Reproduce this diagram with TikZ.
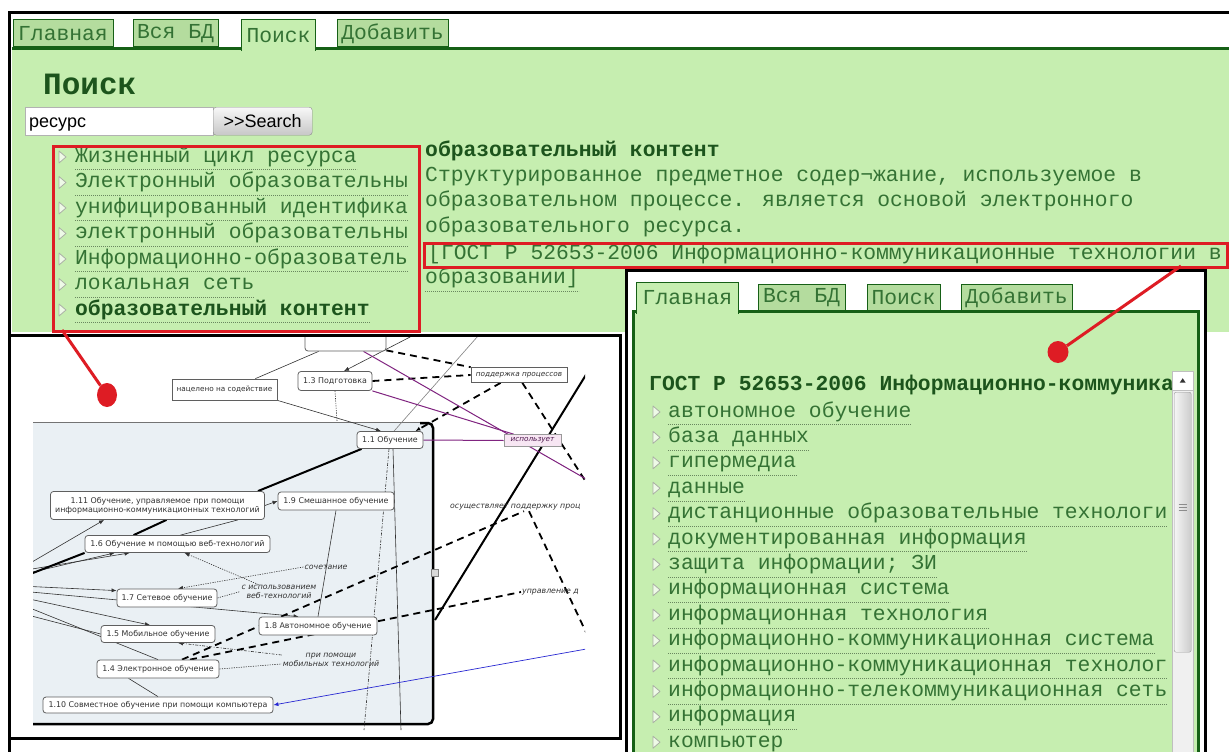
\documentclass[tikz,border=0pt]{standalone}
\usepackage{fontspec}
\setmainfont{Liberation Serif}
\newfontfamily\monof{Liberation Mono}
\newfontfamily\arialf{Liberation Sans}
\newfontfamily\dvf{DejaVu Sans}
\usetikzlibrary{calc,arrows.meta,shapes.geometric}
\pgfdeclarelayer{lzero}
\pgfdeclarelayer{lone}
\pgfsetlayers{lzero,lone,main}
\definecolor{webgreen}{RGB}{198,238,176}
\definecolor{tabgreen}{RGB}{180,220,158}
\definecolor{darkgr}{RGB}{22,96,22}
\definecolor{txtgr}{RGB}{52,114,52}
\definecolor{boldgr}{RGB}{28,84,28}
\definecolor{redm}{RGB}{222,28,36}
\definecolor{diagbg}{RGB}{234,240,244}
\definecolor{purp}{RGB}{128,36,128}
\definecolor{bluel}{RGB}{40,40,210}
\definecolor{nodeln}{RGB}{95,95,95}
\definecolor{nodetx}{RGB}{50,50,50}
\definecolor{ulgr}{RGB}{105,135,95}
\definecolor{trigr}{RGB}{170,175,165}
\definecolor{pinkbg}{RGB}{247,230,243}
\tikzset{
  monotxt/.style={font=\monof\fontsize{21.33}{25.4}\selectfont, text=txtgr, inner sep=0pt, anchor=base west},
  monobold/.style={font=\monof\bfseries\fontsize{21.33}{25.4}\selectfont, text=boldgr, inner sep=0pt, anchor=base west},
  ul/.style={draw=ulgr, line width=0.8pt, dash pattern=on 1pt off 1pt},
  tabbox/.style={draw=darkgr, line width=1pt, fill=tabgreen, inner sep=0pt, minimum height=27pt, font=\monof\fontsize{21.33}{25.4}\selectfont, text=txtgr},
  acttab/.style={fill=webgreen, inner sep=0pt, minimum height=31pt, font=\monof\fontsize{21.33}{25.4}\selectfont, text=txtgr},
  tabedge/.style={draw=darkgr, line width=1.2pt},
  tri/.style={draw=trigr, fill=white!70!webgreen, line width=0.8pt, line join=round},
  redbox/.style={draw=redm, line width=3pt, inner sep=0pt},
  redln/.style={draw=redm, line width=3pt},
  reddot/.style={ellipse, fill=redm, inner sep=0pt},
  dnode/.style={draw=nodeln, fill=white, rounded corners=3pt, line width=0.8pt, inner sep=1pt, font=\dvf\fontsize{7.9}{9.4}\selectfont, text=nodetx, align=center},
  dbox/.style={draw=nodeln, fill=white, line width=0.7pt, inner sep=1pt, font=\dvf\fontsize{7.3}{9}\selectfont, text=nodetx},
  dlab/.style={inner sep=1pt, font=\dvf\itshape\fontsize{7.8}{9}\selectfont, text=nodetx, align=center},
  dthin/.style={draw=nodetx, line width=0.6pt},
  dthick/.style={draw=black, line width=2pt},
  ddash/.style={draw=black, line width=1.8pt, dash pattern=on 7pt off 5pt},
  ddot/.style={draw=nodetx, line width=0.6pt, dash pattern=on 1.2pt off 1.2pt},
  ddashdot/.style={draw=nodetx, line width=0.6pt, dash pattern=on 3pt off 1.5pt on 1pt off 1.5pt},
  darr/.style={-{Latex[length=5pt,width=4pt]}},
  dpurp/.style={draw=purp, line width=1pt},
}
\begin{document}
\begin{tikzpicture}[x=1pt,y=-1pt]
\useasboundingbox (0,0) rectangle (1229,752);
\begin{pgfonlayer}{lzero}
\fill[white] (0,0) rectangle (1229,752);
\end{pgfonlayer}

% ---------------- top screenshot ----------------
\fill[webgreen] (11.5,50) rectangle (1229,332);
\node[tabbox, minimum width=100pt] (tg1) at (63,33.5) {Главная};
\node[tabbox, minimum width=85pt] (tv1) at (175.5,33.5) {Вся БД};
\node[tabbox, minimum width=111pt] (td1) at (392.5,33.5) {Добавить};
\draw[darkgr, line width=3pt] (11.5,48.5) -- (1229,48.5);
\node[acttab, minimum width=73pt] (tp1) at (278.5,35.5) {Поиск};
\draw[tabedge] (tp1.south west) -- (tp1.north west) -- (tp1.north east) -- (tp1.south east);
\draw[line width=2.5pt] (9.5,337) -- (9.5,12.5) -- (1229,12.5);

\node[font=\monof\bfseries\fontsize{31}{36}\selectfont, text=boldgr, inner sep=0pt, anchor=base west] (hd) at (43,95) {Поиск};
\node[draw=black!30, fill=white, minimum width=188pt, minimum height=28pt, inner sep=0pt, anchor=north west] (inp) at (25,107) {};
\node[font=\arialf\fontsize{18}{20}\selectfont, anchor=base west, inner sep=0pt] (inpt) at (29,127) {ресурс};
\node[draw=black!45, rounded corners=3pt, top color=black!3, bottom color=black!22, minimum width=99pt, minimum height=28pt, inner sep=0pt, anchor=north west, font=\arialf\fontsize{18}{20}\selectfont] (btn) at (213,107) {>>Search};

% left list
\begin{scope}
\clip (52,145) rectangle (416.5,330);
\foreach \t [count=\i from 0] in {Жизненный цикл ресурса, Электронный образовательны, унифицированный идентифика, электронный образовательны, Информационно-образователь, локальная сеть}{
  \node[monotxt] (l\i) at (75,{162+25.5*\i}) {\strut\t};
  \draw[ul] (l\i.south west) -- (l\i.south east);
  \draw[tri] (59,{151+25.5*\i}) -- (66,{157+25.5*\i}) -- (59,{163+25.5*\i}) -- cycle;
}
\node[monobold] (l6) at (75,315) {\strut образовательный контент};
\draw[ul] (l6.south west) -- (l6.south east);
\draw[tri] (59,304) -- (66,310) -- (59,316) -- cycle;
\end{scope}
\node[redbox, minimum width=366pt, minimum height=185pt, anchor=north west] (rbox1) at (52,145) {};

% definition text
\node[monobold] (m1) at (425,156) {образовательный контент};
\node[monotxt] (m2) at (425,181) {Структурированное предметное содер¬жание, используемое в};
\node[monotxt] (m3) at (425,206.5) {образовательном процессе. является основой электронного};
\node[monotxt] (m4) at (425,232) {образовательного ресурса.};
\node[monotxt] (m5) at (428,259) {[ГОСТ Р 52653-2006 Информационно-коммуникационные технологии в};
\node[monotxt] (m6) at (425,283.5) {\strut образовании]};
\draw[ul] (m6.south west) -- (m6.south east);
\node[redbox, minimum width=803pt, minimum height=24pt, anchor=north west] (rbox2) at (423,242) {};

% ---------------- right screenshot ----------------
\fill[white] (626,270) rectangle (1205,752);
\node[tabbox, minimum width=87pt] (tv2) at (801.5,297.5) {Вся БД};
\node[tabbox, minimum width=73pt] (tp2) at (903.5,297.5) {Поиск};
\node[tabbox, minimum width=111pt] (td2) at (1016.5,297.5) {Добавить};
\fill[webgreen] (633,312) rectangle (1199,752);
\draw[darkgr, line width=3pt] (633.5,752) -- (633.5,311.5) -- (1198.5,311.5) -- (1198.5,752);
\node[acttab, minimum width=101pt] (tg2) at (687.5,298) {Главная};
\draw[tabedge] (tg2.south west) -- (tg2.north west) -- (tg2.north east) -- (tg2.south east);
\draw[line width=3pt] (626,752) -- (626,270) -- (1205,270) -- (1205,752);

\begin{scope}
\clip (636,320) rectangle (1171,752);
\node[monobold] (gh) at (649,390) {ГОСТ Р 52653-2006 Информационно-коммуника};
\foreach \t [count=\i from 0] in {автономное обучение, база данных, гипермедиа, данные, дистанционные образовательные технологи, документированная информация, защита информации; ЗИ, информационная система, информационная технология, информационно-коммуникационная система, информационно-коммуникационная технолог, информационно-телекоммуникационная сеть, информация, компьютер}{
  \node[monotxt] (r\i) at (668,{417+25.4*\i}) {\strut\t};
  \draw[ul] (r\i.south west) -- (r\i.south east);
  \draw[tri] (653,{406+25.4*\i}) -- (660,{412+25.4*\i}) -- (653,{418+25.4*\i}) -- cycle;
}
\end{scope}
% scrollbar
\node[draw=black!25, fill=black!6, minimum width=21pt, minimum height=382pt, inner sep=0pt, anchor=north west] (sbar) at (1172,371) {};
\node[draw=black!25, fill=white, minimum width=21pt, minimum height=19pt, inner sep=0pt, anchor=north west] (sup) at (1172,371) {};
\fill[black!80] ($(sup.center)+(-3,2)$) -- ($(sup.center)+(3,2)$) -- ($(sup.center)+(0,-2.5)$) -- cycle;
\node[draw=black!40, rounded corners=2pt, left color=black!4, right color=black!20, minimum width=17pt, minimum height=260pt, inner sep=0pt, anchor=north west] (sth) at (1174,392) {};
\foreach \d in {-3,0,3} \draw[black!45, line width=0.8pt] ($(sth.center)+(-4,\d-15)$) -- ($(sth.center)+(4,\d-15)$);

% ---------------- bottom-left screenshot ----------------
\begin{pgfonlayer}{lzero}
\fill[white] (9,335) rectangle (620,739);
\begin{scope}
\clip (33,337) rectangle (585,737);
\fill[diagbg] (33,422) rectangle (433,723);
\end{scope}
\end{pgfonlayer}

\begin{scope}
\clip (33,337) rectangle (585,737);
\node[dnode, minimum width=81pt, minimum height=40pt] (tn) at (345.5,331) {};
\node[dbox, minimum width=105pt, minimum height=21pt] (nac) at (224.5,389.5) {нацелено на содействие};
\node[dnode, minimum width=74pt, minimum height=19pt] (n13) at (335,381) {1.3 Подготовка};
\node[dbox, minimum width=96pt, minimum height=15pt, font=\dvf\itshape\fontsize{7.3}{9}\selectfont] (podd) at (519,375) {поддержка процессов};
\node[dnode, minimum width=66pt, minimum height=17pt] (n11) at (390,440) {1.1 Обучение};
\node[dbox, fill=pinkbg, draw=black!40, minimum width=57pt, minimum height=12pt, font=\dvf\itshape\fontsize{7.3}{9}\selectfont, text=purp!60!black] (isp) at (532.5,440.5) {использует};
\node[dnode, minimum width=214pt, minimum height=28pt] (n111) at (157.5,505.5) {1.11 Обучение, управляемое при помощи\\информационно-коммуникационных технологий};
\node[dnode, minimum width=116pt, minimum height=18pt] (n19) at (336,501) {1.9 Смешанное обучение};
\node[dnode, minimum width=185pt, minimum height=17pt] (n16) at (177.5,544) {1.6 Обучение м помощью веб-технологий};
\node[dnode, minimum width=100pt, minimum height=18pt] (n17) at (167,598) {1.7 Сетевое обучение};
\node[dnode, minimum width=118pt, minimum height=18pt] (n18) at (318,626) {1.8 Автономное обучение};
\node[dnode, minimum width=114pt, minimum height=17pt] (n15) at (158,634) {1.5 Мобильное обучение};
\node[dnode, minimum width=122pt, minimum height=18pt] (n14) at (158,669) {1.4 Электронное обучение};
\node[dnode, minimum width=230pt, minimum height=16pt] (n110) at (158,705) {1.10 Совместное обучение при помощи компьютера};
\node[dlab, anchor=west] (osu) at (449,507) {осуществляет поддержку проц};
\node[dlab] (soch) at (326,567) {сочетание};
\node[dlab] (sisp) at (279,591.5) {с использованием\\веб-технологий};
\node[dlab] (pri) at (331,660) {при помощи\\мобильных технологий};
\node[dlab, anchor=west] (upr) at (521,592) {управление д};
\node[draw=black!50, fill=black!15, minimum size=7pt, inner sep=0pt] (ico) at (435,573) {};
\end{scope}

\coordinate (cTR) at (412,336);
\coordinate (cTR2) at (478,336);
\coordinate (c13e) at (337,421);
\coordinate (cB1) at (364,730);
\coordinate (cB2) at (401,730);
\coordinate (cBl) at (592,648);
\coordinate (cR1) at (597,499);
\coordinate (cR2) at (600,662);
\coordinate (cP) at (600,487);
\coordinate (cS1) at (435,620);
\coordinate (cS2) at (600,352);
\coordinate (cL0) at (20,569);
\coordinate (cL1) at (20,571);
\coordinate (cL2) at (20,575);
\coordinate (cL3) at (20,578);
\coordinate (cL4) at (20,586);
\coordinate (cL5) at (20,591);
\coordinate (cL6) at (20,597);
\coordinate (cL7) at (20,604);
\coordinate (cL8) at (20,613);

\begin{pgfonlayer}{lone}
\begin{scope}
\clip (33,337) rectangle (585,737);
\draw[line width=0.8pt, draw=black!55] (33,422) -- (425,422);
\draw[line width=2.5pt, rounded corners=5pt] (33,724) -- (433,724) -- (433,423) -- (420,423);
% thin lines
\draw[dthin] ($(nac.north east)+(-22,0)$) -- ($(tn.south west)+(14,0)$);
\draw[dthin, darr] (nac.south east) -- ($(n11.north)+(-9,0)$);
\draw[dthin, darr] (cTR) -- ($(n13.north)+(9,0)$);
\draw[dthin, draw=black!50] (cTR2) -- ($(n11.north)+(4,0)$);
\draw[ddot] (n13.south) -- (c13e);
\draw[dthin] (n19.south) -- (n18.north);
\draw[ddashdot] ($(n11.south)+(-1,0)$) -- (cB1);
\draw[dthin] ($(n11.south)+(3,0)$) -- (cB2);
\draw[dthin] ($(n16.north)+(3,0)$) -- ($(n111.south east)+(-27,0)$);
\draw[dthin, darr] (cL0) -- ($(n111.south west)+(54,0)$);
\draw[dthin, darr] (cL1) -- ($(n16.south west)+(45,0)$);
\draw[dthin, darr] (cL2) -- ($(n16.south west)+(30,0)$);
\draw[dthick] (cL3) -- (n16.south west);
\draw[dthick] ($(n16.north west)+(49,0)$) -- ($(n111.south)+(9,0)$);
\draw[dthick] ($(n111.north east)+(-7,0)$) -- ($(n11.south west)+(5,0)$);
\draw[dthin, darr] (n111.east) -- (n19.west);
\draw[dthin, darr] (cL4) -- ($(n17.north west)+(0,2)$);
\draw[dthin, darr] (cL5) -- ($(n18.north west)+(40,0)$);
\draw[dthin, darr] (cL6) -- ($(n15.north)+(-8,0)$);
\draw[dthin] (cL7) -- (n14.north);
\draw[dthin] (cL8) -- (n15.west);
\draw[dthin] ($(n14.south west)+(32,0)$) -- (n110.north);
\draw[bluel, line width=0.7pt, darr] (cBl) -- (n110.east);
% dotted arrows
\draw[ddot, darr] ($(sisp.north west)+(18,1)$) -- ($(n16.south)+(7,0)$);
\draw[ddot, darr] (soch.west) -- ($(n17.north)+(11,0)$);
\draw[ddot] (n17.east) -- (sisp.west);
\draw[ddashdot, darr] ($(pri.west)+(0,-5)$) -- ($(n15.south)+(20,0)$);
\draw[ddot] (n14.east) -- ($(pri.south west)+(0,-4)$);
% dashed
\draw[ddash] ($(tn.south east)+(0,-1)$) -- (podd.north west);
\draw[ddash] (n13.east) -- (podd.west);
\draw[ddash, darr] ($(podd.south west)+(30,0)$) -- ($(n11.north east)+(-8,0)$);
\draw[ddash] ($(podd.south east)+(-45,0)$) -- (cR1);
\draw[ddash] ($(osu.south west)+(80,0)$) -- (cR2);
\draw[ddash] ($(n14.north)+(24,0)$) -- ($(osu.south west)+(75,0)$);
\draw[ddash] ($(n14.north)+(32,0)$) -- (upr.west);
% thick
\draw[dthick] (cS1) -- (cS2);
% purple
\draw[dpurp] ($(tn.south)+(18,0)$) -- (cP);
\draw[dpurp] (n13.south east) -- ($(isp.north west)+(10,0)$);
\draw[dpurp] (n11.east) -- (isp.west);
\end{scope}
\end{pgfonlayer}

\draw[line width=3pt] (9.5,335.5) rectangle (620,738.5);
\draw[line width=3pt] (9.5,738) -- (9.5,752);

% ---------------- red annotations ----------------
\node[reddot, minimum width=20pt, minimum height=24pt] (rd1) at (107,395) {};
\coordinate (rs1) at (62,330);
\draw[redln] (rs1) -- (rd1);
\node[reddot, minimum width=21pt, minimum height=22pt] (rd2) at (1058,352) {};
\coordinate (rs2) at (1181,266);
\draw[redln] (rs2) -- (rd2);
\end{tikzpicture}
\end{document}
